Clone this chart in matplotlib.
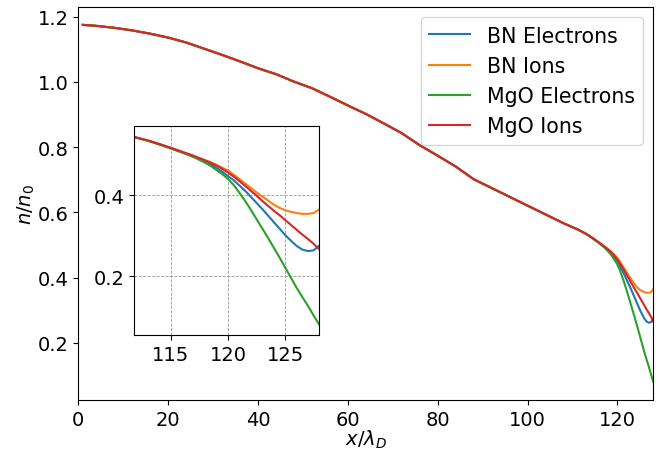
import numpy as np
import matplotlib
matplotlib.use("Agg")
import matplotlib.pyplot as plt

# shared profile (all four species coincide here)
x_common = [1, 4, 8, 12, 16, 20, 24, 28, 32, 36, 40, 44, 48, 52, 56, 60,
            64, 68, 72, 76, 80, 84, 88, 92, 96, 100, 104, 108]
n_common = [1.175, 1.172, 1.166, 1.158, 1.148, 1.136, 1.121, 1.102, 1.083,
            1.063, 1.042, 1.024, 1.001, 0.981, 0.955, 0.928, 0.902, 0.873,
            0.843, 0.806, 0.774, 0.741, 0.702, 0.675, 0.648, 0.621, 0.594,
            0.567]

# sheath region, where the species diverge
x_tail = [110, 111, 112, 113, 114, 115, 116, 117, 118, 118.5, 119, 119.5,
          120, 120.5, 121, 121.5, 122, 122.5, 123, 123.5, 124, 124.5, 125,
          125.5, 126, 126.5, 127, 127.5, 128]
bn_electrons_tail = [0.555, 0.549, 0.542, 0.535, 0.526, 0.516, 0.506, 0.495,
                     0.484, 0.476, 0.467, 0.458, 0.447, 0.437, 0.424, 0.411,
                     0.396, 0.381, 0.366, 0.350, 0.334, 0.318, 0.302, 0.288,
                     0.275, 0.266, 0.262, 0.264, 0.276]
bn_ions_tail = [0.555, 0.549, 0.542, 0.535, 0.526, 0.517, 0.507, 0.497,
                0.486, 0.481, 0.475, 0.468, 0.461, 0.451, 0.440, 0.429,
                0.418, 0.407, 0.397, 0.387, 0.377, 0.369, 0.363, 0.359,
                0.356, 0.354, 0.354, 0.356, 0.365]
mgo_electrons_tail = [0.555, 0.549, 0.542, 0.534, 0.525, 0.515, 0.505, 0.494,
                      0.480, 0.472, 0.462, 0.452, 0.440, 0.425, 0.406, 0.386,
                      0.364, 0.341, 0.318, 0.295, 0.271, 0.247, 0.222, 0.197,
                      0.172, 0.149, 0.127, 0.103, 0.080]
mgo_ions_tail = [0.555, 0.549, 0.542, 0.535, 0.526, 0.517, 0.507, 0.497,
                 0.486, 0.480, 0.473, 0.465, 0.456, 0.446, 0.435, 0.423,
                 0.411, 0.399, 0.386, 0.374, 0.362, 0.351, 0.339, 0.327,
                 0.315, 0.303, 0.292, 0.280, 0.266]

labels = ["BN Electrons", "BN Ions", "MgO Electrons", "MgO Ions"]
tails = [bn_electrons_tail, bn_ions_tail, mgo_electrons_tail, mgo_ions_tail]
colors = ["#1f77b4", "#ff7f0e", "#2ca02c", "#d62728"]

x = np.array(x_common + x_tail)

fig = plt.figure(figsize=(6.67, 4.52), dpi=100)
ax = fig.add_axes([0.1174, 0.1128, 0.8621, 0.8695])
for lab, tail, c in zip(labels, tails, colors):
    ax.plot(x, np.array(n_common + tail), color=c, lw=1.5, label=lab)
ax.set_xlim(0, 128)
ax.set_xticks([0, 20, 40, 60, 80, 100, 120])
ax.set_yticks([0.2, 0.4, 0.6, 0.8, 1.0, 1.2])
ax.tick_params(labelsize=14)
ax.set_xlabel(r"$x/\lambda_D$", fontsize=14, labelpad=-1)
ax.set_ylabel(r"$n/n_0$", fontsize=14, labelpad=0.5)
ax.legend(loc="upper right", fontsize=14.8)

ins = fig.add_axes([0.2014, 0.2566, 0.2774, 0.4617])
for lab, tail, c in zip(labels, tails, colors):
    ins.plot(x, np.array(n_common + tail), color=c, lw=1.5)
ins.set_xlim(111.8, 128)
ins.set_ylim(0.055, 0.570)
ins.set_xticks([115, 120, 125])
ins.set_yticks([0.2, 0.4])
ins.tick_params(labelsize=14)
ins.grid(True, linestyle="--", color="gray", lw=0.6, alpha=0.8)

fig.savefig("out.png", dpi=100)
